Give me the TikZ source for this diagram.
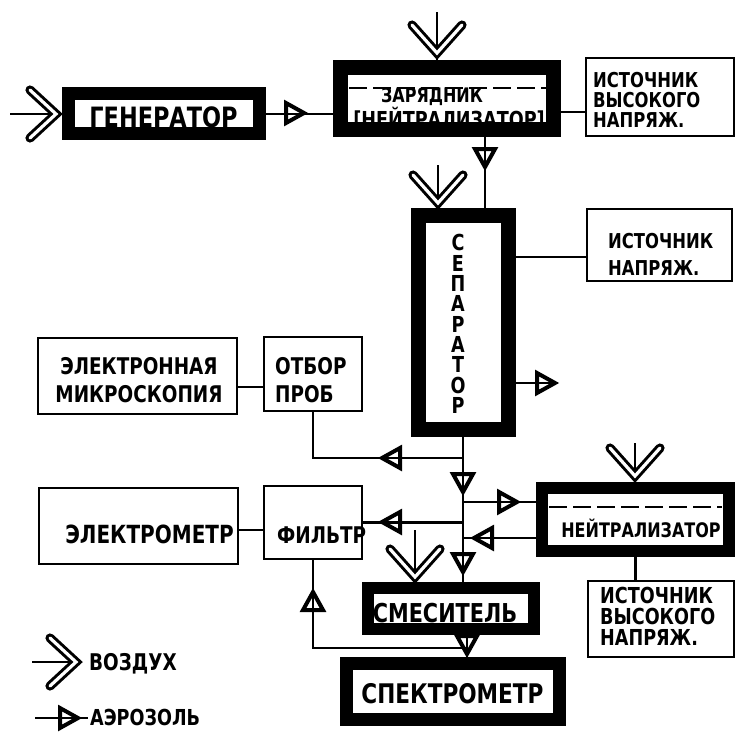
\documentclass[tikz,border=0pt]{standalone}
\usepackage{fontspec}
\setmainfont{DejaVu Sans}[FakeStretch=0.8]
\begin{document}
\begin{tikzpicture}[x=1pt,y=-1pt,
  box/.style={draw, line width=2.3pt, inner sep=0pt},
  heavy/.style={draw, line width=#1, inner sep=0pt},
  conn/.style={line width=2.3pt},
  dsh/.style={line width=2pt, dash pattern=on 18pt off 6pt},
  lbl/.style={font=\bfseries\fontsize{#1}{#1}\selectfont, inner sep=0pt},
  air/.style={double=white, double distance=3.2pt, line width=3pt, line cap=round, line join=miter},
  aer/.style={draw, line width=4pt, fill=white, line join=miter},
  chevD/.pic={\draw[air] (-25,-28) -- (0,0) -- (25,-28);},
  chevR/.pic={\draw[air] (-26,-24) -- (0,0) -- (-26,24);},
  aerR/.pic={\path[aer] (-8,-10) -- (10,0) -- (-8,10) -- cycle;},
  aerL/.pic={\path[aer] (8,-10) -- (-10,0) -- (8,10) -- cycle;},
  aerD/.pic={\path[aer] (-10,-8) -- (0,10) -- (10,-8) -- cycle;},
  aerU/.pic={\path[aer] (-10,8) -- (0,-10) -- (10,8) -- cycle;},
]
\useasboundingbox[fill=white] (0,0) rectangle (736,732);

% boxes
\node[heavy=13pt, minimum width=191pt, minimum height=40pt] (gen) at (164,113.5) {};
\node[heavy=15pt, minimum width=213pt, minimum height=62pt] (zar) at (447,98.5) {};
\node[box, minimum width=148pt, minimum height=78pt] (hv1) at (660,97) {};
\node[heavy=15pt, minimum width=90pt, minimum height=214pt] (sep) at (463,322.5) {};
\node[box, minimum width=145pt, minimum height=72pt] (vs) at (659.5,245) {};
\node[box, minimum width=199pt, minimum height=76pt] (em) at (137.5,376) {};
\node[box, minimum width=98pt, minimum height=74pt] (ot) at (313,374) {};
\node[box, minimum width=199pt, minimum height=76pt] (el) at (138.5,526) {};
\node[box, minimum width=98pt, minimum height=73pt] (fil) at (313,522.5) {};
\node[heavy=12pt, minimum width=187pt, minimum height=63pt] (neu) at (635.5,519.5) {};
\node[box, minimum width=146pt, minimum height=76pt] (hv2) at (661,619) {};
\node[heavy=12pt, minimum width=166pt, minimum height=41pt] (sme) at (451,608.5) {};
\node[heavy=13pt, minimum width=213pt, minimum height=56pt] (spe) at (453,691.5) {};

% dashed partitions
\draw[dsh] (349,88) -- (546,88);
\draw[dsh] (549,507) -- (722,507);

% texts
\node[lbl=28, anchor=base] (genT) at (163.5,127) {ГЕНЕРАТОР};
\node[inner sep=0pt, align=center, font=\bfseries] (zarT) at (449,109)
  {{\fontsize{20}{19}\selectfont ЗАРЯДНИК\hspace*{34pt}}\\{\fontsize{22}{19}\selectfont{[}НЕЙТРАЛИЗАТОР{]}}};
\node[inner sep=0pt, align=left, anchor=west, font=\bfseries\fontsize{20.5}{20}\selectfont] (hv1T) at (593,100)
  {ИСТОЧНИК\\ВЫСОКОГО\\НАПРЯЖ.};
\node[inner sep=0pt, align=center, font=\bfseries\fontsize{22}{20.3}\selectfont] (sepT) at (458,324)
  {С\\Е\\П\\А\\Р\\А\\Т\\О\\Р};
\node[inner sep=0pt, align=left, anchor=west, font=\bfseries\fontsize{20.5}{27}\selectfont] (vsT) at (608,254)
  {ИСТОЧНИК\\НАПРЯЖ.};
\node[inner sep=0pt, align=center, font=\bfseries\fontsize{23}{28}\selectfont] (emT) at (139,380)
  {ЭЛЕКТРОННАЯ\\МИКРОСКОПИЯ};
\node[inner sep=0pt, align=left, anchor=west, font=\bfseries\fontsize{23}{28}\selectfont] (otT) at (275,380)
  {ОТБОР\\ПРОБ};
\node[lbl=25, anchor=base] (elT) at (149.5,543) {ЭЛЕКТРОМЕТР};
\node[lbl=23, anchor=base west] (filT) at (277,543) {ФИЛЬТР};
\node[lbl=20, anchor=base] (neuT) at (641,537) {НЕЙТРАЛИЗАТОР};
\node[inner sep=0pt, align=left, anchor=west, font=\bfseries\fontsize{22}{21}\selectfont] (hv2T) at (600,616.5)
  {ИСТОЧНИК\\ВЫСОКОГО\\НАПРЯЖ.};
\node[lbl=26, anchor=base] (smeT) at (445,622) {СМЕСИТЕЛЬ};
\node[lbl=27, anchor=base] (speT) at (452.5,703) {СПЕКТРОМЕТР};
\node[lbl=23, anchor=base west] (vozT) at (89,670) {ВОЗДУХ};
\node[lbl=22, anchor=base west] (aerT) at (90,725) {АЭРОЗОЛЬ};

% helper coordinates
\coordinate (airG) at (10,114);
\coordinate (az) at (437,12);
\coordinate (as) at (438,165);
\coordinate (an) at (635,443);
\coordinate (am) at (415,530);
\coordinate (zy) at (0,112);
\coordinate (zx) at (485,0);
\coordinate (sy) at (0,257);
\coordinate (so) at (556,383);
\coordinate (emy) at (0,387);
\coordinate (elY) at (0,530);
\coordinate (otc) at (313,458);
\coordinate (n1) at (0,502);
\coordinate (n2) at (0,538);
\coordinate (ssx) at (467,0);
\coordinate (fj) at (467,648);
\coordinate (lgA) at (32,662);
\coordinate (lgAe) at (78,662);
\coordinate (lgB) at (35,718);
\coordinate (lgBe) at (88,718);

% aerosol triangles (drawn below the connectors)
\pic at (294,113) {aerR};
\pic at (485,157) {aerD};
\pic at (545,383) {aerR};
\pic at (392,458) {aerL};
\pic at (463,482) {aerD};
\pic at (507,502) {aerR};
\pic at (392,522) {aerL};
\pic at (484,538) {aerL};
\pic at (463,562) {aerD};
\pic at (467,644) {aerD};
\pic at (313,602) {aerU};
\pic at (68,718) {aerR};

% connectors
\draw[conn] (airG) -- (airG -| gen.west);
\draw[conn] (gen.east |- airG) -- (airG -| zar.west);
\draw[conn] (az) -- (az |- zar.north);
\draw[conn] (zy -| zar.east) -- (zy -| hv1.west);
\draw[conn] (zx |- zar.south) -- (zx |- sep.north);
\draw[conn] (as) -- (as |- sep.north);
\draw[conn] (sy -| sep.east) -- (sy -| vs.west);
\draw[conn] (so -| sep.east) -- (so);
\draw[conn] (emy -| em.east) -- (emy -| ot.west);
\draw[conn] (ot.south) -- (otc) -- (otc -| sep.south);
\draw[conn] (sep.south) -- (sep.south |- sme.north);
\draw[conn] (n1 -| sep.south) -- (n1 -| neu.west);
\draw[conn] (n2 -| neu.west) -- (n2 -| sep.south);
\draw[conn] (fil.east -| sep.south) -- (fil.east);
\draw[conn] (elY -| el.east) -- (elY -| fil.west);
\draw[conn] (an) -- (an |- neu.north);
\draw[conn] (neu.south) -- (neu.south |- hv2.north);
\draw[conn] (am) -- (am |- sme.north);
\draw[conn] (ssx |- sme.south) -- (ssx |- spe.north);
\draw[conn] (fj) -- (fj -| fil.south) -- (fil.south);
\draw[conn] (lgA) -- (lgAe);
\draw[conn] (lgB) -- (lgBe);

% air chevrons
\pic at (56,114) {chevR};
\pic at (437,53) {chevD};
\pic at (438,203) {chevD};
\pic at (635,476) {chevD};
\pic at (415,577) {chevD};
\pic at (76,662) {chevR};
\end{tikzpicture}
\end{document}
